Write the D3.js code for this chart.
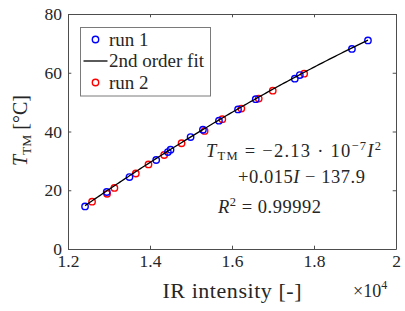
<!DOCTYPE html>
<html>
<head>
<meta charset="utf-8">
<script src="https://cdn.jsdelivr.net/npm/d3@7"></script>
<style>
  body { margin: 0; background: #fff; }
  text { font-family: "Liberation Serif", "Times New Roman", "DejaVu Serif", serif; fill: #262626; }
</style>
</head>
<body>
<div id="chart"></div>
<script>
// datos (intensidad IR, temperatura)
var run1I = [12416, 12945, 13499, 14151, 14436, 14501, 14990, 15291, 15682, 16147, 16579, 17532, 17654, 18925, 19316];
var run1T = [14.5, 19.4, 24.5, 30.3, 33.0, 33.8, 38.1, 40.6, 43.7, 47.5, 51.0, 58.0, 59.2, 68.1, 71.0];
var run2I = [12587, 12953, 13132, 13654, 13963, 14346, 14770, 15332, 15764, 16228, 16652, 16994, 17760];
var run2T = [16.1, 18.8, 20.8, 25.7, 28.8, 32.0, 36.0, 40.2, 44.2, 47.8, 51.2, 53.9, 59.7];
// ajuste de 2o orden: a*I^2 + b*I + c
var fitCoef = [-2.1e-7, 0.01483, -137.0];
var fitRange = [12416, 19316];
var xTicks = [12000, 14000, 16000, 18000, 20000];
var yTicks = [0, 20, 40, 60, 80];

var width = 405, height = 311;
var margin = {left: 68, top: 14, right: 9, bottom: 62};

var svg = d3.select('#chart')
    .append('svg')
    .attr('width', width)
    .attr('height', height);

var x = d3.scaleLinear().domain([12000, 20000]).range([margin.left, width - margin.right]);
var y = d3.scaleLinear().domain([0, 80]).range([height - margin.bottom, margin.top]);

var axisColor = '#4d4d4d';
var tickLen = 3.3;

// ejes con ticks hacia dentro
svg.append('g')
    .attr('transform', 'translate(0,' + y(0) + ')')
    .call(d3.axisBottom(x).tickValues(xTicks).tickSizeInner(-tickLen).tickSizeOuter(0).tickPadding(5.5)
        .tickFormat(d => String(d / 1e4)));
svg.append('g')
    .attr('transform', 'translate(0,' + y(80) + ')')
    .call(d3.axisTop(x).tickValues(xTicks).tickSizeInner(-tickLen).tickSizeOuter(0).tickFormat(''));
svg.append('g')
    .attr('transform', 'translate(' + x(12000) + ',0)')
    .call(d3.axisLeft(y).tickValues(yTicks).tickSizeInner(-tickLen).tickSizeOuter(0).tickPadding(6));
svg.append('g')
    .attr('transform', 'translate(' + x(20000) + ',0)')
    .call(d3.axisRight(y).tickValues(yTicks).tickSizeInner(-tickLen).tickSizeOuter(0).tickFormat(''));

svg.selectAll('.domain').attr('stroke', axisColor).attr('stroke-width', 1);
svg.selectAll('.tick line').attr('stroke', axisColor);
svg.selectAll('.tick text')
    .attr('font-size', 17.5)
    .attr('fill', '#262626');

// etiquetas de los ejes
svg.append('text')
    .attr('x', 232)
    .attr('y', 298)
    .attr('text-anchor', 'middle')
    .attr('font-size', 22)
    .attr('textLength', 139)
    .attr('lengthAdjust', 'spacing')
    .text('IR intensity [-]');

var expLabel = svg.append('text')
    .attr('x', 353)
    .attr('y', 297)
    .attr('font-size', 18);
expLabel.append('tspan').text('×10');
expLabel.append('tspan').attr('font-size', 12).attr('dy', -8).text('4');

var yLabel = svg.append('text')
    .attr('transform', 'translate(27,130.5) rotate(-90)')
    .attr('text-anchor', 'middle')
    .attr('font-size', 20);
yLabel.append('tspan').attr('font-style', 'italic').text('T');
yLabel.append('tspan').attr('font-size', 13.5).attr('dy', 4).text('TM');
yLabel.append('tspan').attr('dy', -4).text(' [°C]');

// curva de ajuste
var fitI = d3.range(fitRange[0], fitRange[1] + 1, 50);
var fitLine = d3.line()
    .x(d => x(d))
    .y(d => y(fitCoef[0] * d * d + fitCoef[1] * d + fitCoef[2]));

svg.append('g').selectAll('circle')
    .data(d3.zip(run2I, run2T))
    .enter()
    .append('circle')
    .attr('cx', d => x(d[0]))
    .attr('cy', d => y(d[1]))
    .attr('r', 3.2)
    .attr('fill', 'none')
    .attr('stroke', '#ff0000')
    .attr('stroke-width', 1.4);

svg.append('g').selectAll('circle')
    .data(d3.zip(run1I, run1T))
    .enter()
    .append('circle')
    .attr('cx', d => x(d[0]))
    .attr('cy', d => y(d[1]))
    .attr('r', 3.2)
    .attr('fill', 'none')
    .attr('stroke', '#0000ff')
    .attr('stroke-width', 1.4);

svg.append('path')
    .datum(fitI)
    .attr('d', fitLine)
    .attr('fill', 'none')
    .attr('stroke', '#000')
    .attr('stroke-width', 1.3);

// ecuacion (espaciado tipo LaTeX)
var eq1 = svg.append('text').attr('x', 206).attr('y', 157).attr('font-size', 18.5)
    .attr('textLength', 175).attr('lengthAdjust', 'spacing');
eq1.append('tspan').attr('font-style', 'italic').text('T');
eq1.append('tspan').attr('font-size', 12.5).attr('dy', 3).text('TM');
eq1.append('tspan').attr('dy', -3).text(' = −2.13 · 10');
eq1.append('tspan').attr('font-size', 12.5).attr('dy', -7).text('−7');
eq1.append('tspan').attr('dy', 7).attr('font-style', 'italic').text('I');
eq1.append('tspan').attr('font-size', 12.5).attr('dy', -7).text('2');

var eq2 = svg.append('text').attr('x', 238).attr('y', 183).attr('font-size', 18.5)
    .attr('textLength', 127).attr('lengthAdjust', 'spacing');
eq2.append('tspan').text('+0.015');
eq2.append('tspan').attr('font-style', 'italic').text('I');
eq2.append('tspan').text(' − 137.9');

var eq3 = svg.append('text').attr('x', 218).attr('y', 213).attr('font-size', 18.5)
    .attr('textLength', 103).attr('lengthAdjust', 'spacing');
eq3.append('tspan').attr('font-style', 'italic').text('R');
eq3.append('tspan').attr('font-size', 12.5).attr('dy', -7).text('2');
eq3.append('tspan').attr('dy', 7).text(' = 0.99992');

// leyenda
var legend = svg.append('g');
legend.append('rect')
    .attr('x', 80.5).attr('y', 27.5)
    .attr('width', 130).attr('height', 68.5)
    .attr('fill', '#fff')
    .attr('stroke', '#7a7a7a')
    .attr('stroke-width', 1);

var legendItems = ['run 1', '2nd order fit', 'run 2'];
var legendColors = ['#0000ff', '#000', '#ff0000'];
var legendY = [39.5, 61, 82.5];

legendItems.forEach(function(name, i) {
    if (i === 1) {
        legend.append('line')
            .attr('x1', 83.5).attr('x2', 107.5)
            .attr('y1', legendY[i]).attr('y2', legendY[i])
            .attr('stroke', '#000').attr('stroke-width', 1.3);
    } else {
        legend.append('circle')
            .attr('cx', 95.5).attr('cy', legendY[i]).attr('r', 3.2)
            .attr('fill', 'none')
            .attr('stroke', legendColors[i])
            .attr('stroke-width', 1.4);
    }
    legend.append('text')
        .attr('x', 109)
        .attr('y', legendY[i] + 6)
        .attr('font-size', 19)
        .text(name);
});
</script>
</body>
</html>
